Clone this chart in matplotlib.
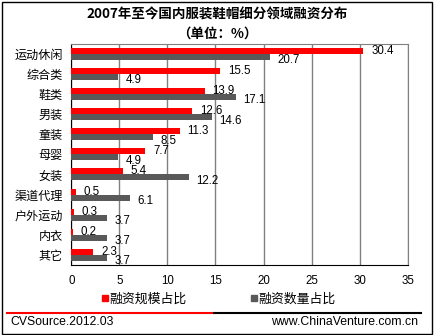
import numpy as np
import matplotlib.pyplot as plt
from matplotlib.lines import Line2D
from matplotlib.patches import Rectangle

plt.rcParams['font.family'] = ['Noto Sans CJK SC', 'DejaVu Sans']

categories = ['运动休闲', '综合类', '鞋类', '男装', '童装', '母婴', '女装',
              '渠道代理', '户外运动', '内衣', '其它']
scale_share = [30.4, 15.5, 13.9, 12.6, 11.3, 7.7, 5.4, 0.5, 0.3, 0.2, 2.3]
count_share = [20.7, 4.9, 17.1, 14.6, 8.5, 4.9, 12.2, 6.1, 3.7, 3.7, 3.7]
x_ticks = [0, 5, 10, 15, 20, 25, 30, 35]

red = '#FF0000'
gray = '#595959'
num_font = 'Liberation Sans'

fig = plt.figure(figsize=(4.35, 3.35), dpi=100)
ax = fig.add_axes([0.164, 0.209, 0.7732, 0.6606])

y = np.arange(len(categories))
h = 0.3
ax.barh(y - h / 2, scale_share, height=h, color=red, zorder=3)
ax.barh(y + h / 2, count_share, height=h, color=gray, zorder=3)

for i in range(len(categories)):
    ax.annotate(f'{scale_share[i]:.1f}', (scale_share[i], y[i] - h / 2),
                xytext=(5.5, 0), textcoords='offset points',
                ha='left', va='center', fontsize=8.3, family=num_font, zorder=4)
    ax.annotate(f'{count_share[i]:.1f}', (count_share[i], y[i] + h / 2),
                xytext=(5.5, -2.5), textcoords='offset points',
                ha='left', va='center', fontsize=8.3, family=num_font, zorder=4)

ax.set_xlim(0, 35)
ax.set_ylim(len(categories) - 0.5, -0.5)
ax.set_xticks(x_ticks)
ax.set_xticklabels([str(t) for t in x_ticks], family=num_font, fontsize=8.3)
ax.set_yticks(y)
ax.set_yticklabels(categories, fontsize=8.7)
ax.tick_params(axis='both', length=0)
ax.tick_params(axis='x', pad=7)
ax.tick_params(axis='y', pad=6)
ax.grid(axis='x', color='#808080', linewidth=1, zorder=0)
for s in ['top', 'right']:
    ax.spines[s].set_color('#808080')
for s in ['left', 'bottom']:
    ax.spines[s].set_color('black')

fig.text(0.5, 0.955, '2007年至今国内服装鞋帽细分领域融资分布', ha='center', va='center',
         fontsize=9.7, fontweight='bold')
fig.text(0.5, 0.90, '（单位：%）', ha='center', va='center',
         fontsize=9.7, fontweight='bold')

handles = [Line2D([], [], marker='s', color=red, linestyle='', markersize=5),
           Line2D([], [], marker='s', color=gray, linestyle='', markersize=5)]
fig.legend(handles, ['融资规模占比', '融资数量占比'], loc='center',
           bbox_to_anchor=(0.502, 0.107), ncol=2, frameon=False, fontsize=9.3,
           handlelength=0.6, handletextpad=0.05, columnspacing=4.9)

# footer line and sources
fig.add_artist(Line2D([7 / 435, 214 / 435], [1 - 313 / 335] * 2, color=red, linewidth=1.5))
fig.add_artist(Line2D([214 / 435, 421 / 435], [1 - 313 / 335] * 2, color='black', linewidth=1.5))
fig.text(10 / 435, 1 - 322 / 335, 'CVSource.2012.03', ha='left', va='center',
         fontsize=8.8, family=num_font)
fig.text(418 / 435, 1 - 322 / 335, 'www.ChinaVenture.com.cn', ha='right', va='center',
         fontsize=8.8, family=num_font)

fig.add_artist(Rectangle((2 / 435, 1 / 335), 430 / 435, 332 / 335, transform=fig.transFigure,
                         fill=False, edgecolor='black', linewidth=1))

fig.savefig('out.png', dpi=100)
